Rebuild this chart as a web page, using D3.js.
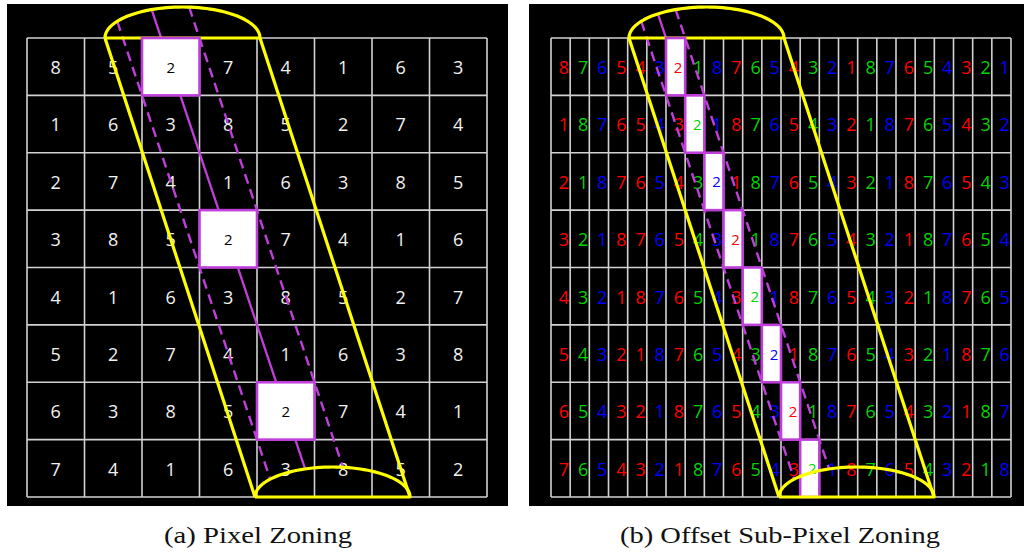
<!DOCTYPE html>
<html>
<head>
<meta charset="utf-8">
<script src="https://cdn.jsdelivr.net/npm/d3@7/dist/d3.min.js"></script>
<style>
  html, body { margin: 0; padding: 0; background: #ffffff; }
  svg { display: block; }
</style>
</head>
<body>
<svg id="fig" width="1026" height="556"></svg>
<script>
// ---- data -------------------------------------------------------------
// (a) pixel zoning: 8 x 8 grid of zone numbers
const pixelRows = [
  "85274163",
  "16385274",
  "27416385",
  "38527416",
  "41638527",
  "52741638",
  "63852741",
  "74163852"
];
// cells selected by the zone line in (a)
const pixelHits = [ {row: 0, col: 2}, {row: 3, col: 3}, {row: 6, col: 4} ];

// (b) offset sub-pixel zoning: 8 x 24 grid of zone numbers
const subRows = [
  "876543218765432187654321",
  "187654321876543218765432",
  "218765432187654321876543",
  "321876543218765432187654",
  "432187654321876543218765",
  "543218765432187654321876",
  "654321876543218765432187",
  "765432187654321876543218"
];
// sub-pixel colour channel of each column
const subChannels = ["R","G","B","R","R","B","R","G","B","R","G","B",
                     "R","G","B","R","G","B","R","G","B","R","G","B"];
// cells selected by the zone line in (b)
const subHits = [
  {row: 0, col: 6}, {row: 1, col: 7}, {row: 2, col: 8}, {row: 3, col: 9},
  {row: 4, col: 10}, {row: 5, col: 11}, {row: 6, col: 12}, {row: 7, col: 13}
];
const captions = ["(a) Pixel Zoning", "(b) Offset Sub-Pixel Zoning"];

// ---- styles -----------------------------------------------------------
const channelColor = { R: "#ff0000", G: "#00d400", B: "#0000ff" };
const YELLOW = "#ffff00";
const MAGENTA = "#bf3fda";
const GRID = "#d2d2d2";

const svg = d3.select("#fig");

// Panel frames (black backgrounds) and grid boxes
const panels = [
  { bg: [7, 4, 508, 506],   grid: [27, 38, 487, 497],  rows: pixelRows, hits: pixelHits,
    sub: 1, caption: captions[0], capX: 258, capW: 188 },
  { bg: [529, 4, 1024, 506], grid: [551, 38, 1011, 497], rows: subRows, hits: subHits,
    sub: 3, caption: captions[1], capX: 780, capW: 320 }
];

panels.forEach(p => {
  const nRows = p.rows.length;
  const nCols = p.rows[0].length;
  const g = svg.append("g");

  g.append("rect")
    .attr("x", p.bg[0]).attr("y", p.bg[1])
    .attr("width", p.bg[2] - p.bg[0]).attr("height", p.bg[3] - p.bg[1])
    .attr("fill", "#000");

  // fine cell scale and coarse (pixel) scale
  const x = d3.scaleLinear().domain([0, nCols]).range([p.grid[0], p.grid[2]]);
  const y = d3.scaleLinear().domain([0, nRows]).range([p.grid[1], p.grid[3]]);
  const xc = d3.scaleLinear().domain([0, 8]).range([p.grid[0], p.grid[2]]);

  // grid lines
  g.selectAll("line.v").data(d3.range(nCols + 1)).join("line")
    .attr("x1", d => x(d)).attr("x2", d => x(d))
    .attr("y1", y(0)).attr("y2", y(nRows))
    .attr("stroke", GRID).attr("stroke-width", 1.6);
  g.selectAll("line.h").data(d3.range(nRows + 1)).join("line")
    .attr("y1", d => y(d)).attr("y2", d => y(d))
    .attr("x1", x(0)).attr("x2", x(nCols))
    .attr("stroke", GRID).attr("stroke-width", 1.6);

  // zone numbers
  const cells = [];
  p.rows.forEach((r, ri) => r.split("").forEach((v, ci) => cells.push({row: ri, col: ci, v})));
  const dx = p.sub === 1 ? 0 : 3.3;
  const colorOf = d => p.sub === 1 ? "#f2f2f2" : channelColor[subChannels[d.col]];
  const isHit = d => p.hits.some(h => h.row === d.row && h.col === d.col);

  g.selectAll("text.num").data(cells.filter(d => !isHit(d))).join("text")
    .attr("x", d => x(d.col + 0.5) + dx)
    .attr("y", d => y(d.row + 0.5) + 2.5)
    .attr("text-anchor", "middle").attr("dominant-baseline", "middle")
    .attr("font-family", "'Open Sans', sans-serif").attr("font-size", 18)
    .attr("fill", colorOf)
    .text(d => d.v);

  // zone line geometry: pixel x = a + b * pixel y
  const h0 = p.hits[0];
  const rowH = y(1) - y(0);
  const slope = (x(1) - x(0)) / rowH * (p.sub === 1 ? 1 / 3 : 1);
  const lineThrough = (cx, cy) => ({ a: cx - slope * cy, b: slope });
  const centre = lineThrough(x(h0.col + 0.5), y(h0.row + 0.5));
  const rightEdge = lineThrough(x(h0.col + 1), y(h0.row));
  const leftEdge = lineThrough(x(h0.col), y(h0.row + 1));

  // zone aperture: elliptical caps joined by straight sides
  const top = { cx: xc(2.704), cy: y(0), rx: xc(1.348) - xc(0), ry: 31 };
  const bot = { cx: xc(5.313), cy: y(nRows), rx: xc(1.348) - xc(0), ry: 30 };

  // where a line meets the upper half of an ellipse
  function hitEllipse(L, E) {
    const f = yy => {
      const xx = L.a + L.b * yy;
      return ((xx - E.cx) / E.rx) ** 2 + ((yy - E.cy) / E.ry) ** 2 - 1;
    };
    let lo = E.cy - E.ry - 1, hi = E.cy;   // f(lo) > 0, f(hi) < 0
    for (let i = 0; i < 60; i++) {
      const m = (lo + hi) / 2;
      if (f(m) > 0) lo = m; else hi = m;
    }
    const yy = (lo + hi) / 2;
    return [L.a + L.b * yy, yy];
  }
  const seg = L => [hitEllipse(L, top), hitEllipse(L, bot)];

  g.append("path")
    .attr("d", d3.line()(seg(centre)))
    .attr("stroke", MAGENTA).attr("stroke-width", 2.3).attr("fill", "none");
  [leftEdge, rightEdge].forEach(L => {
    g.append("path")
      .attr("d", d3.line()(seg(L)))
      .attr("stroke", MAGENTA).attr("stroke-width", 2.4)
      .attr("stroke-dasharray", "10,6").attr("fill", "none");
  });

  const halfEllipse = E => {
    const pts = d3.range(0, 181, 3).map(t => {
      const r = t * Math.PI / 180;
      return [E.cx - E.rx * Math.cos(r), E.cy - E.ry * Math.sin(r)];
    });
    pts.push([E.cx - E.rx, E.cy]);
    return d3.line()(pts) ;
  };

  // top cap and sides
  g.append("path").attr("d", halfEllipse(top))
    .attr("stroke", YELLOW).attr("stroke-width", 3.2).attr("fill", "none")
    .attr("stroke-linejoin", "round");
  g.append("path")
    .attr("d", d3.line()([[top.cx - top.rx, top.cy], [bot.cx - bot.rx, bot.cy]]))
    .attr("stroke", YELLOW).attr("stroke-width", 3.2);
  g.append("path")
    .attr("d", d3.line()([[top.cx + top.rx, top.cy], [bot.cx + bot.rx, bot.cy]]))
    .attr("stroke", YELLOW).attr("stroke-width", 3.2);

  // selected cells
  const hg = g.selectAll("g.hit").data(p.hits).join("g");
  hg.append("rect")
    .attr("x", d => x(d.col)).attr("y", d => y(d.row))
    .attr("width", x(1) - x(0)).attr("height", rowH)
    .attr("fill", "#ffffff").attr("stroke", MAGENTA).attr("stroke-width", 2.6);
  hg.append("text")
    .attr("x", d => x(d.col + 0.5) + (p.sub === 1 ? 0 : 2.5))
    .attr("y", d => y(d.row + 0.5) + 2)
    .attr("text-anchor", "middle").attr("dominant-baseline", "middle")
    .attr("font-family", "'Open Sans', sans-serif").attr("font-size", 15)
    .attr("fill", d => p.sub === 1 ? "#000" : channelColor[subChannels[d.col]])
    .text(d => p.rows[d.row][d.col]);

  // bottom cap
  g.append("path").attr("d", halfEllipse(bot))
    .attr("stroke", YELLOW).attr("stroke-width", 3.2).attr("fill", "none")
    .attr("stroke-linejoin", "round");

  // caption
  svg.append("text")
    .attr("x", p.capX).attr("y", 543)
    .attr("text-anchor", "middle")
    .attr("font-family", "'Liberation Serif', 'Times New Roman', serif")
    .attr("font-size", 23)
    .attr("textLength", p.capW).attr("lengthAdjust", "spacingAndGlyphs")
    .attr("fill", "#111")
    .text(p.caption);
});
</script>
</body>
</html>
